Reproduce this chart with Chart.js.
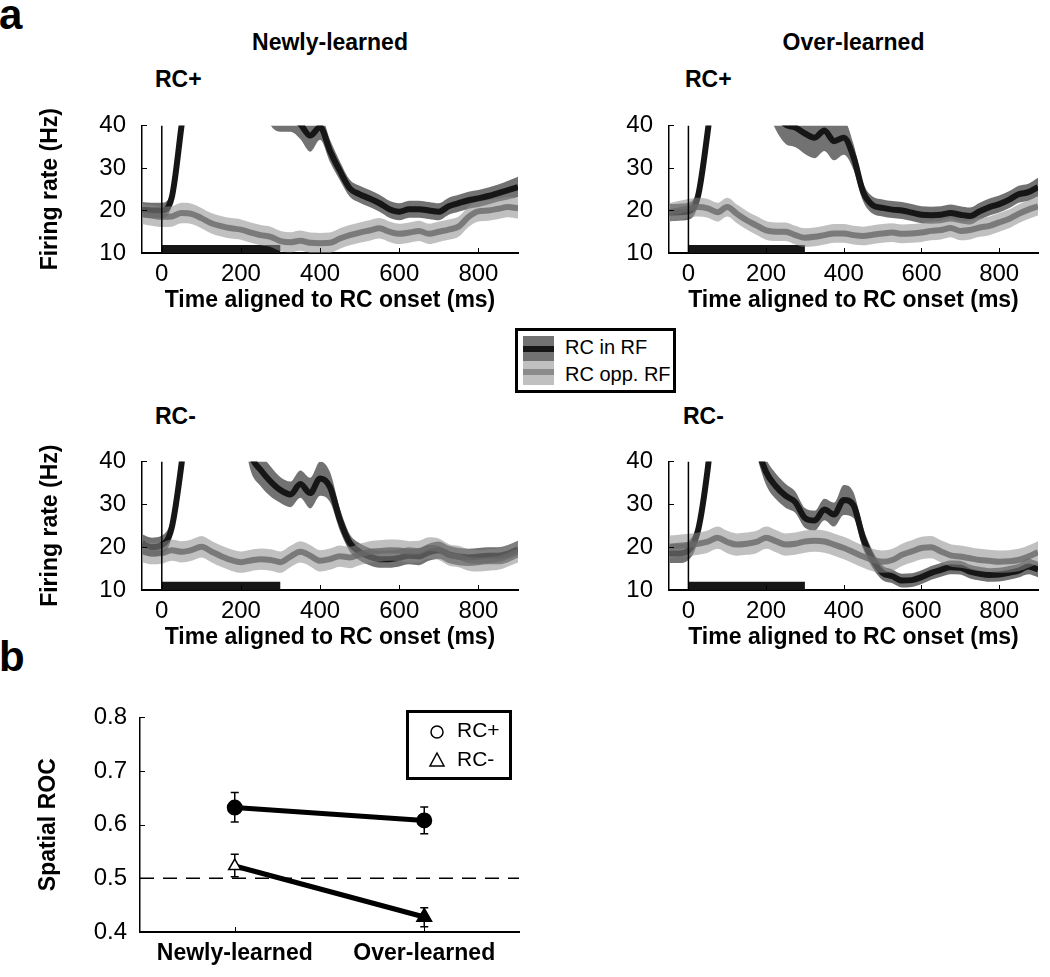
<!DOCTYPE html>
<html>
<head>
<meta charset="utf-8">
<script src="https://cdn.jsdelivr.net/npm/chart.js"></script>
<style>
body{margin:0;background:#fff;width:1050px;height:977px;position:relative;overflow:hidden;font-family:"Liberation Sans",Arial,Helvetica,sans-serif;color:#000}
canvas{position:absolute}
.t{position:absolute;line-height:1;white-space:nowrap}
.b{font-weight:bold}
.sw{position:absolute;left:523px;width:31px}
</style>
</head>
<body>
<div class="t b" style="left:-1px;top:-6px;font-size:42px">a</div>
<div class="t b" style="left:-1px;top:636px;font-size:42px">b</div>
<div class="t b" style="left:142px;top:31px;width:376px;text-align:center;font-size:23px">Newly-learned</div>
<div class="t b" style="left:669px;top:31px;width:369px;text-align:center;font-size:23px">Over-learned</div>
<div class="t b" style="left:155px;top:68px;font-size:23px">RC+</div>
<div class="t b" style="left:685px;top:68px;font-size:23px">RC+</div>
<div class="t b" style="left:155px;top:405px;font-size:23px">RC-</div>
<div class="t b" style="left:683px;top:405px;font-size:23px">RC-</div>

<canvas id="nPlus" width="488" height="219" style="left:37px;top:95px"></canvas>
<canvas id="oPlus" width="481" height="219" style="left:564px;top:95px"></canvas>
<canvas id="nMinus" width="488" height="220" style="left:37px;top:431px"></canvas>
<canvas id="oMinus" width="481" height="220" style="left:564px;top:431px"></canvas>
<canvas id="roc" width="492" height="287" style="left:35px;top:690px"></canvas>

<!-- legend for the firing-rate panels -->
<div style="position:absolute;left:515px;top:328px;width:161px;height:65px;border:3px solid #000;box-sizing:border-box"></div>
<div class="sw" style="top:336px;height:10px;background:#727272"></div>
<div class="sw" style="top:346px;height:6px;background:#161616"></div>
<div class="sw" style="top:352px;height:9px;background:#727272"></div>
<div class="sw" style="top:361px;height:8px;background:#c0c0c0"></div>
<div class="sw" style="top:369px;height:6px;background:#8b8b8b"></div>
<div class="sw" style="top:375px;height:10px;background:#c0c0c0"></div>
<div class="t" style="left:565px;top:337px;font-size:20px">RC in RF</div>
<div class="t" style="left:565px;top:364px;font-size:20px">RC opp. RF</div>

<!-- legend for the ROC panel -->
<div style="position:absolute;left:406px;top:710px;width:106px;height:70px;border:3px solid #000;box-sizing:border-box"></div>
<svg style="position:absolute;left:428px;top:723px" width="18" height="18"><circle cx="9" cy="9" r="6" fill="none" stroke="#000" stroke-width="1.5"/></svg>
<svg style="position:absolute;left:428px;top:751px" width="18" height="18"><polygon points="9,2 16,15 2,15" fill="none" stroke="#000" stroke-width="1.5"/></svg>
<div class="t" style="left:457px;top:719px;font-size:21px">RC+</div>
<div class="t" style="left:457px;top:748px;font-size:21px">RC-</div>

<script>
const FONT = '"Liberation Sans", Arial, Helvetica, sans-serif';

// time axis of the firing-rate traces (ms from RC onset)
const timeMs = [-50, -25, 0, 25, 50, 75, 100, 125, 150, 175, 200, 225, 250, 275, 300, 325, 350, 375, 400,
  425, 450, 475, 500, 525, 550, 575, 600, 625, 650, 675, 700, 725, 750, 775, 800, 825, 850, 875, 900];
const xTickValues = [0, 200, 400, 600, 800];
const yTickValues = [10, 20, 30, 40];
const stimMs = [0, 300];
const stimTop = [11.9, 11.9];
const onsetRange = [10, 40];

// Newly-learned, RC+
const newlyPlusInRF = [20.2, 20, 20, 23, 40, 58, 65, 68, 68, 66, 62, 55, 48, 44, 42.5, 42, 40.3, 37.6, 39.6,
  34, 29.3, 25.2, 23.8, 22.8, 21.7, 20.3, 19.7, 20.3, 20.3, 20, 19.7, 21, 21.7, 22.4, 22.8, 23.4, 24.1, 24.8, 25.5];
const newlyPlusInRFSem = [1.8, 1.8, 1.8, 1.8, 1.8, 2, 2, 2, 2, 2, 2, 2.5, 3, 4, 4, 3.5, 3.5, 3.8, 3,
  2.6, 2.2, 2, 2, 2, 2, 2, 2, 2, 2, 2, 2, 2, 2, 2, 2, 2, 2, 2.2, 2.4];
const newlyPlusOpp = [19.2, 18.8, 18.5, 18.6, 19.4, 19.2, 18.2, 17, 16.3, 15.8, 15.5, 14.8, 14.2, 13.8, 12.8, 12.5, 12.9, 12.4, 12.3,
  12.4, 13.4, 14.2, 14.8, 15.3, 15.8, 15, 14.5, 14.8, 15.2, 14.5, 15, 15.5, 16.2, 18.5, 19.8, 20, 20.4, 20.8, 20.5];
const newlyPlusOppSem = [2.4, 2.4, 2.4, 2.4, 2.4, 2.4, 2.4, 2.4, 2.4, 2.4, 2.4, 2.4, 2.4, 2.4, 2.4, 2.4, 2.4, 2.4, 2.4,
  2.4, 2.4, 2.4, 2.4, 2.4, 2.4, 2.4, 2.4, 2.4, 2.4, 2.4, 2.4, 2.4, 2.4, 2.4, 2.4, 2.4, 2.4, 2.4, 2.4];

// Over-learned, RC+
const overPlusInRF = [19.5, 19.6, 19.8, 23.5, 38.8, 58, 65, 68, 66, 58, 48, 43, 40.2, 39.5, 38.1, 37.1, 38.8, 36.3, 37.1,
  32.6, 24.3, 21.2, 20.6, 20.2, 20, 19.5, 19, 18.9, 19, 19.4, 19, 18.7, 19.8, 20.8, 21.5, 22.5, 23.8, 24.3, 25.5];
const overPlusInRFSem = [2, 2, 2, 2, 2, 2, 2, 2, 2.5, 3, 3.5, 4, 4.5, 4.6, 4.8, 4.8, 4.8, 4.5, 4,
  3, 2.2, 2, 2, 2, 2, 2, 2, 2, 2, 2, 2, 2, 2, 2, 2, 2, 2, 2, 2.2];
const overPlusOpp = [19.5, 20, 20.5, 20.8, 20.5, 19.6, 20.8, 19.2, 17.7, 16.5, 15.3, 15, 15, 14.2, 13.6, 13.8, 14.2, 14.6, 14.6,
  14.2, 14, 14.3, 14.6, 14.8, 14.5, 14.6, 14.8, 15.2, 15.4, 15.9, 15.2, 15.4, 16, 16.4, 17.2, 18, 19.2, 20.2, 21];
const overPlusOppSem = [2.2, 2.2, 2.2, 2.2, 2.2, 2.2, 2.2, 2.2, 2.2, 2.2, 2.2, 2.2, 2.2, 2.2, 2.2, 2.2, 2.2, 2.2, 2.2,
  2.2, 2.2, 2.2, 2.2, 2.2, 2.2, 2.2, 2.2, 2.2, 2.2, 2.2, 2.2, 2.2, 2.2, 2.2, 2.2, 2.2, 2.2, 2.2, 2.2];

// Newly-learned, RC-
const newlyMinusInRF = [20.8, 20, 20.5, 24.5, 39.5, 60, 66, 68, 65, 58, 52, 41.5, 38, 35.3, 33.3, 32.3, 34.7, 32.6, 36,
  34, 26.4, 21, 18.9, 17.8, 17.2, 17.2, 17.5, 18, 17.8, 18.8, 19.3, 18.3, 17.8, 17.6, 17.8, 18, 18, 18.5, 19.5];
const newlyMinusInRFSem = [2.2, 2.2, 2.2, 2.2, 2.2, 2.2, 2.2, 2.2, 2.5, 3, 3.5, 3.8, 3.8, 3.5, 3, 3, 3.2, 3.6, 4,
  3.5, 2.6, 2, 2, 2, 2, 2, 2, 2, 2, 2, 2, 2, 2, 2, 2, 2, 2, 2, 2];
const newlyMinusOpp = [19, 18.5, 18.6, 19.3, 18.9, 19.3, 20.1, 19, 17.9, 17, 16.5, 16.9, 17.2, 17, 16.5, 17.8, 18.9, 18, 16.8,
  17.2, 17.9, 17.6, 18.3, 18.9, 19.1, 19.3, 19.2, 18.9, 19, 19.8, 19.5, 18.2, 17.8, 17, 16.8, 17, 17.2, 18, 18.9];
const newlyMinusOppSem = [2.5, 2.5, 2.5, 2.5, 2.5, 2.5, 2.5, 2.5, 2.5, 2.5, 2.5, 2.5, 2.5, 2.5, 2.5, 2.5, 2.5, 2.5, 2.5,
  2.5, 2.5, 2.5, 2.5, 2.5, 2.5, 2.5, 2.5, 2.5, 2.5, 2.5, 2.5, 2.5, 2.5, 2.5, 2.5, 2.5, 2.5, 2.5, 2.5];

// Over-learned, RC-
const overMinusInRF = [18.5, 18.5, 19.2, 24, 38.5, 60, 64, 60, 52, 44, 37.5, 34.2, 32, 30.5, 26.8, 26.2, 28.8, 27.6, 31,
  29.8, 22, 17, 14, 13.2, 12.2, 12.3, 13, 14, 14.7, 15.3, 15.2, 14.3, 13.8, 13.5, 13.6, 14, 14.5, 15.5, 14.8];
const overMinusInRFSem = [2.2, 2.2, 2.2, 2.2, 2.2, 2.2, 2.2, 2.2, 2.2, 2.5, 3, 3, 2.8, 2.5, 2.3, 2.3, 2.5, 2.8, 3.5,
  3, 2.5, 2, 1.7, 1.6, 1.6, 1.6, 1.6, 1.6, 1.6, 1.6, 1.6, 1.6, 1.6, 1.6, 1.6, 1.6, 1.6, 1.8, 1.8];
const overMinusOpp = [20.1, 20.3, 20.5, 20.8, 21.3, 22.2, 21.2, 20.6, 20.8, 21.2, 22.2, 21.4, 20.6, 20.8, 21.3, 21.5, 21.3, 20.6, 19.8,
  18.8, 17.8, 17, 16.6, 17, 18.2, 19, 19.8, 20, 19, 18.1, 17.8, 17.4, 17, 16.8, 16.6, 16.7, 17, 17.8, 18.8];
const overMinusOppSem = [2.6, 2.6, 2.6, 2.6, 2.6, 2.6, 2.6, 2.6, 2.6, 2.6, 2.6, 2.6, 2.6, 2.6, 2.6, 2.6, 2.6, 2.6, 2.6,
  2.6, 2.6, 2.6, 2.6, 2.6, 2.6, 2.6, 2.6, 2.6, 2.6, 2.6, 2.6, 2.6, 2.6, 2.6, 2.6, 2.6, 2.6, 2.6, 2.6];

// panel b: spatial ROC
const groups = ['Newly-learned', 'Over-learned'];
const rocPlus = [0.632, 0.608];
const rocPlusLo = [0.605, 0.583];
const rocPlusHi = [0.660, 0.633];
const rocMinus = [0.523, 0.428];
const rocMinusLo = [0.503, 0.410];
const rocMinusHi = [0.545, 0.445];
const rocYTicks = [0.4, 0.5, 0.6, 0.7, 0.8];
const chanceX = [0.5, 2.5];
const chanceLevel = 0.5;

function toPts(vals, sem, sign) {
  return timeMs.map((t, i) => ({x: t, y: vals[i] + (sem ? sign * sem[i] : 0)}));
}

// small tick marks pointing into the plot
const inTicks = {
  id: 'inTicks',
  afterDraw(chart) {
    const {ctx, chartArea: a, scales: {x, y}} = chart;
    ctx.save();
    ctx.strokeStyle = '#000';
    ctx.lineWidth = 1;
    ctx.beginPath();
    y.ticks.forEach(t => {
      const p = Math.round(y.getPixelForValue(t.value)) + 0.5;
      ctx.moveTo(a.left, p); ctx.lineTo(a.left + 5, p);
    });
    x.ticks.forEach(t => {
      const p = Math.round(x.getPixelForValue(t.value)) + 0.5;
      ctx.moveTo(p, a.bottom); ctx.lineTo(p, a.bottom - 5);
    });
    ctx.stroke();
    ctx.restore();
  }
};

function firingPanel(id, inRF, inRFSem, opp, oppSem, yTitle) {
  const ln = {pointRadius: 0, cubicInterpolationMode: 'monotone', fill: false};
  new Chart(document.getElementById(id), {
    type: 'line',
    data: {
      datasets: [
        {...ln, data: toPts(inRF, inRFSem, -1), borderWidth: 0, order: 6},
        {...ln, data: toPts(inRF, inRFSem, 1), borderWidth: 0, fill: '-1', backgroundColor: '#727272', order: 6},
        {...ln, data: toPts(inRF), borderColor: '#161616', borderWidth: 6, order: 5},
        {...ln, data: toPts(opp, oppSem, -1), borderWidth: 0, order: 4},
        {...ln, data: toPts(opp, oppSem, 1), borderWidth: 0, fill: '-1', backgroundColor: 'rgba(140,140,140,0.55)', order: 4},
        {...ln, data: toPts(opp), borderColor: 'rgba(105,105,105,0.8)', borderWidth: 6, order: 3},
        {pointRadius: 0, data: stimMs.map((t, i) => ({x: t, y: stimTop[i]})), borderWidth: 0,
          fill: 'start', backgroundColor: '#161616', order: 7},
        {pointRadius: 0, data: onsetRange.map(v => ({x: 0, y: v})), borderColor: '#000', borderWidth: 1.5, order: 0}
      ]
    },
    options: {
      responsive: false,
      animation: false,
      devicePixelRatio: 1,
      layout: {padding: {top: 13, right: 7, left: 0, bottom: 0}, autoPadding: false},
      plugins: {legend: {display: false}, tooltip: {enabled: false}},
      scales: {
        x: {
          type: 'linear', min: -50, max: 900,
          afterBuildTicks: s => { s.ticks = xTickValues.map(v => ({value: v})); },
          afterFit: s => { s.height = 61; },
          grid: {display: false, drawTicks: false},
          border: {color: '#000', width: 2},
          ticks: {font: {size: 24, family: FONT}, color: '#000', padding: 7, maxRotation: 0},
          title: {display: true, text: 'Time aligned to RC onset (ms)', color: '#000', padding: 0,
            font: {size: 23, weight: 'bold', family: FONT}}
        },
        y: {
          min: 10, max: 40,
          afterBuildTicks: s => { s.ticks = yTickValues.map(v => ({value: v})); },
          afterFit: s => { s.width = 105; },
          grid: {display: false, drawTicks: false},
          border: {color: '#000', width: 1.5},
          ticks: {font: {size: 24, family: FONT}, color: '#000', padding: 16},
          title: {display: yTitle, text: 'Firing rate (Hz)', color: '#000', padding: 0,
            font: {size: 23, weight: 'bold', family: FONT}}
        }
      }
    },
    plugins: [inTicks]
  });
}

firingPanel('nPlus', newlyPlusInRF, newlyPlusInRFSem, newlyPlusOpp, newlyPlusOppSem, true);
firingPanel('oPlus', overPlusInRF, overPlusInRFSem, overPlusOpp, overPlusOppSem, false);
firingPanel('nMinus', newlyMinusInRF, newlyMinusInRFSem, newlyMinusOpp, newlyMinusOppSem, true);
firingPanel('oMinus', overMinusInRF, overMinusInRFSem, overMinusOpp, overMinusOppSem, false);

// error bars for the ROC values, drawn under the markers
const errBars = {
  id: 'errBars',
  beforeDatasetsDraw(chart) {
    const {ctx, scales: {x, y}} = chart;
    ctx.save();
    ctx.strokeStyle = '#000';
    ctx.lineWidth = 1.5;
    [[rocPlusLo, rocPlusHi], [rocMinusLo, rocMinusHi]].forEach(([lo, hi]) => {
      groups.forEach((g, i) => {
        const px = x.getPixelForValue(i + 1);
        const y0 = y.getPixelForValue(lo[i]);
        const y1 = y.getPixelForValue(hi[i]);
        ctx.beginPath();
        ctx.moveTo(px, y0); ctx.lineTo(px, y1);
        ctx.moveTo(px - 4, y0); ctx.lineTo(px + 4, y0);
        ctx.moveTo(px - 4, y1); ctx.lineTo(px + 4, y1);
        ctx.stroke();
      });
    });
    ctx.restore();
  }
};

new Chart(document.getElementById('roc'), {
  type: 'line',
  data: {
    datasets: [
      {data: groups.map((g, i) => ({x: i + 1, y: rocPlus[i]})), borderColor: '#000', borderWidth: 5,
        pointStyle: 'circle', pointRadius: 5.5, pointBackgroundColor: '#000', pointBorderColor: '#000', order: 1},
      {data: groups.map((g, i) => ({x: i + 1, y: rocMinus[i]})), borderColor: '#000', borderWidth: 5,
        pointStyle: 'triangle', pointRadius: [7, 8.5], pointBackgroundColor: ['#fff', '#000'],
        pointBorderColor: '#000', pointBorderWidth: 1.5, order: 1},
      {data: chanceX.map(v => ({x: v, y: chanceLevel})), borderColor: '#000', borderWidth: 1.5,
        borderDash: [14, 9], pointRadius: 0, order: 3}
    ]
  },
  options: {
    responsive: false,
    animation: false,
    devicePixelRatio: 1,
    layout: {padding: {top: 14, right: 8, left: 0, bottom: 0}, autoPadding: false},
    plugins: {legend: {display: false}, tooltip: {enabled: false}},
    scales: {
      x: {
        type: 'linear', min: 0.5, max: 2.5,
        afterBuildTicks: s => { s.ticks = groups.map((g, i) => ({value: i + 1})); },
        afterFit: s => { s.height = 45; },
        grid: {display: false, drawTicks: false},
        border: {color: '#000', width: 2},
        ticks: {font: {size: 23, weight: 'bold', family: FONT}, color: '#000', padding: 8, maxRotation: 0,
          callback: v => groups[v - 1]}
      },
      y: {
        min: 0.4, max: 0.8,
        afterBuildTicks: s => { s.ticks = rocYTicks.map(v => ({value: v})); },
        afterFit: s => { s.width = 105; },
        grid: {display: false, drawTicks: false},
        border: {color: '#000', width: 1.5},
        ticks: {font: {size: 24, family: FONT}, color: '#000', padding: 13, callback: v => v.toFixed(1)},
        title: {display: true, text: 'Spatial ROC', color: '#000', padding: 0,
          font: {size: 23, weight: 'bold', family: FONT}}
      }
    }
  },
  plugins: [inTicks, errBars]
});
</script>
</body>
</html>
